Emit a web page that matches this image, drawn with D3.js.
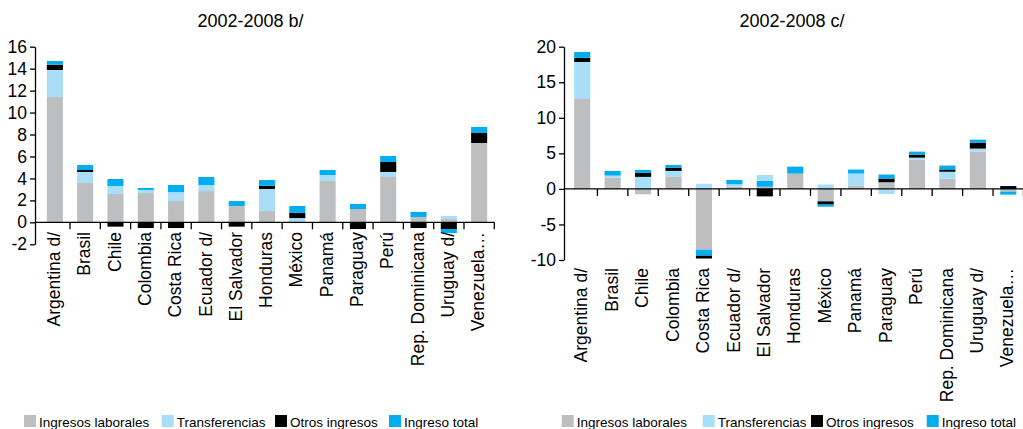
<!DOCTYPE html>
<html><head><meta charset="utf-8">
<script src="https://cdn.jsdelivr.net/npm/d3@7"></script>
<style>
body{margin:0;background:#fff}
svg text{font-family:"Liberation Sans",Arial,sans-serif;fill:#000}
</style>
</head><body>
<svg id="chart" width="1023" height="429"></svg>
<script>
// ---------- data ----------
const categories = ["Argentina d/","Brasil","Chile","Colombia","Costa Rica","Ecuador d/","El Salvador","Honduras","México","Panamá","Paraguay","Perú","Rep. Dominicana","Uruguay d/","Venezuela…"];
const seriesNames = ["Ingresos laborales","Transferencias","Otros ingresos","Ingreso total"];
const seriesColors = ["#BDBEC0","#A8DEF8","#000000","#00ADEF"];

// Panel b/
const laboralesB      = [11.42, 3.58, 2.58, 2.67, 1.94, 2.85, 1.49, 1.03, 0.02, 3.77, 1.21, 4.13, 0.49, 0.30, 7.23];
const transferenciasB = [ 2.46, 1.01, 0.73, 0.28, 0.82, 0.55, 0.00, 2.01, 0.37, 0.54, 0.00, 0.46, 0.00, 0.28, 0.00];
const otrosB          = [ 0.48, 0.18,-0.39,-0.52,-0.52, 0.00,-0.39, 0.30, 0.47, 0.00,-0.61, 0.91,-0.52,-0.61, 0.91];
const totalB          = [ 0.34, 0.45, 0.64, 0.18, 0.64, 0.73, 0.45, 0.52, 0.63, 0.46, 0.46, 0.54, 0.45,-0.36, 0.55];
const yTicksB = [-2,0,2,4,6,8,10,12,14,16];

// Panel c/
const laboralesC      = [12.65, 1.59,-0.75, 1.69,-8.57, 0.35, 0.30, 2.15,-1.75, 0.47, 0.94, 4.12, 1.45, 5.25,-0.38];
const transferenciasC = [ 5.20, 0.28, 1.69, 0.84, 0.72, 0.30, 0.85, 0.00, 0.62, 1.69,-0.72, 0.28, 0.96, 0.42, 0.00];
const otrosC          = [ 0.60, 0.00, 0.56, 0.47,-0.38, 0.00,-1.05, 0.00,-0.45, 0.00, 0.52, 0.42, 0.33, 0.84, 0.40];
const totalC          = [ 0.80, 0.66, 0.42, 0.37,-0.84, 0.60, 0.82, 0.98,-0.30, 0.56, 0.56, 0.42, 0.54, 0.42,-0.42];
const yTicksC = [-10,-5,0,5,10,15,20];
// stacking order exceptions seen in the original (series indices)
const stackOrderC = {"El Salvador":[0,3,1,2], "Costa Rica":[0,1,3,2]};

// ---------- drawing ----------
const svg = d3.select("#chart");

function stackRows(series, orders){
  const rows = [];
  categories.forEach((cat,i)=>{
    const order = orders[cat] || [0,1,2,3];
    let pos = 0, neg = 0;
    order.forEach(k=>{
      const v = series[k][i];
      if (v >= 0){ rows.push({cat,k,y0:pos,y1:pos+v}); pos += v; }
      else { rows.push({cat,k,y0:neg,y1:neg+v}); neg += v; }
    });
  });
  return rows;
}

function drawPanel(p){
  const g = svg.append("g");
  const x = d3.scaleBand().domain(categories).range([p.x0,p.x1]).paddingInner(0.47).paddingOuter(0.235);
  const y = d3.scaleLinear().domain(p.domain).range([p.yBot,p.yTop]);
  const rows = stackRows(p.series, p.orders||{});

  g.append("g").selectAll("rect").data(rows.filter(d=>d.y0!==d.y1)).join("rect")
    .attr("x",d=>x(d.cat)).attr("width",x.bandwidth())
    .attr("y",d=>y(Math.max(d.y0,d.y1)))
    .attr("height",d=>Math.abs(y(d.y0)-y(d.y1)))
    .attr("fill",d=>seriesColors[d.k]);

  // y axis
  const ya = g.append("g").attr("transform",`translate(${p.axisX},0)`)
    .call(d3.axisLeft(y).tickValues(p.ticks).tickSize(5).tickSizeOuter(0).tickPadding(3).tickFormat(d=>String(d)));
  ya.selectAll("path,line").attr("stroke","#000").attr("stroke-width",1.3);
  ya.selectAll("text").attr("font-size",17.5).attr("font-family",'"Liberation Sans",Arial,sans-serif');

  // x axis at zero
  const y0 = y(0);
  g.append("line").attr("x1",p.axisX).attr("x2",p.x1).attr("y1",y0).attr("y2",y0)
    .attr("stroke","#000").attr("stroke-width",1.3);
  const half = (x.step()-x.bandwidth())/2;
  g.append("g").selectAll("line").data(categories).join("line")
    .attr("x1",d=>x(d)+x.bandwidth()+half).attr("x2",d=>x(d)+x.bandwidth()+half)
    .attr("y1",y0).attr("y2",y0+7).attr("stroke","#000").attr("stroke-width",1.3);

  // category labels
  g.append("g").selectAll("text").data(categories).join("text")
    .attr("transform",d=>`translate(${x(d)+x.bandwidth()/2-1},${p.labelY}) rotate(-90)`)
    .attr("text-anchor","end").attr("dy","0.35em").attr("font-size",17.5).text(d=>d);

  // title
  g.append("text").attr("x",p.titleX).attr("y",27).attr("text-anchor","middle")
    .attr("font-size",18).text(p.title);

  // legend
  const lg = g.append("g").selectAll("g").data(seriesNames).join("g")
    .attr("transform",(d,i)=>`translate(${p.legendX[i]},415)`);
  lg.append("rect").attr("width",12).attr("height",12).attr("fill",(d,i)=>seriesColors[i]);
  lg.append("text").attr("x",15).attr("y",11.5).attr("font-size",13.5).text(d=>d);
}

drawPanel({
  title:"2002-2008 b/", titleX:250.5,
  series:[laboralesB,transferenciasB,otrosB,totalB],
  domain:[-2,16], ticks:yTicksB, yTop:46.7, yBot:244.3,
  x0:39.7, x1:494.3, axisX:35, labelY:232,
  legendX:[24,161.7,275,389]
});
drawPanel({
  title:"2002-2008 c/", titleX:792,
  series:[laboralesC,transferenciasC,otrosC,totalC], orders:stackOrderC,
  domain:[-10,20], ticks:yTicksC, yTop:46.7, yBot:260,
  x0:567, x1:1023.5, axisX:564, labelY:268,
  legendX:[561.7,702.7,811,926.7]
});
</script>
</body></html>
